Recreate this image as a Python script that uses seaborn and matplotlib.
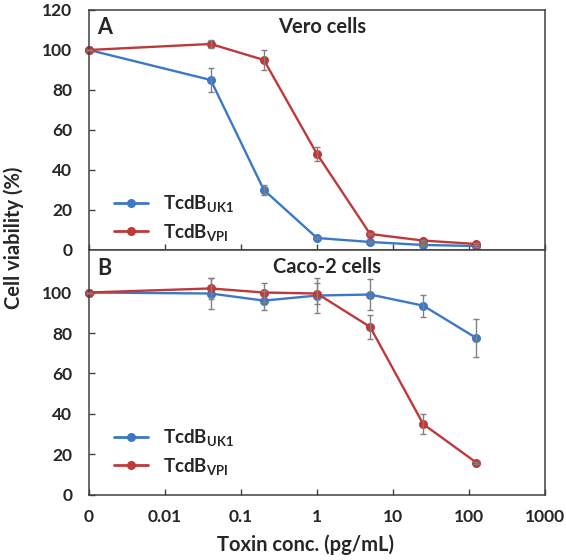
import matplotlib

matplotlib.use("Agg")
import matplotlib.pyplot as plt
import pandas as pd
import seaborn as sns

# toxin concentrations (pg/mL); the untreated control "0" sits at 0.001 on the log axis
CONC = [0.001, 0.04, 0.2, 1, 5, 25, 125]
XTICKS = [0.001, 0.01, 0.1, 1, 10, 100, 1000]
XTICK_LABELS = ["0", "0.01", "0.1", "1", "10", "100", "1000"]

TOXINS = ["UK1", "VPI"]

VERO_UK1 = [100, 85, 30, 6, 4, 2.5, 2]
VERO_UK1_ERR = [0, 6, 2.5, 0.5, 0.5, 0.5, 0.5]
VERO_VPI = [100, 103, 95, 48, 8, 4.7, 3]
VERO_VPI_ERR = [0, 2, 5, 3.5, 0.5, 0.5, 0.5]

CACO_UK1 = [100, 99.5, 96, 98.5, 99, 93.5, 77.5]
CACO_UK1_ERR = [0, 7.5, 4.5, 8.5, 7.5, 5.5, 9.5]
CACO_VPI = [100, 102, 100, 99.5, 83, 35, 16]
CACO_VPI_ERR = [0, 5, 4.5, 5, 6, 5, 0.5]

COLORS = {"UK1": "#3d78c6", "VPI": "#be3a3a"}
ERR_COLOR = "#808080"

sns.set_style("ticks")
plt.rcParams["font.family"] = ["Lato", "DejaVu Sans"]
plt.rcParams["font.weight"] = "bold"
plt.rcParams["mathtext.fontset"] = "custom"
plt.rcParams["mathtext.rm"] = "Lato:bold"
plt.rcParams["mathtext.default"] = "rm"


def label(name):
    return "TcdB$_{\\mathrm{" + name + "}}$"


def make_frame(uk1, vpi):
    rows = []
    for toxin, values in zip(TOXINS, [uk1, vpi]):
        for c, v in zip(CONC, values):
            rows.append({"conc": c, "viability": v, "toxin": label(toxin)})
    return pd.DataFrame(rows)


def draw_panel(ax, uk1, uk1_err, vpi, vpi_err, letter, title, title_x, ymax, yticks, legend_anchor):
    df = make_frame(uk1, vpi)
    palette = {label(t): COLORS[t] for t in TOXINS}
    sns.lineplot(data=df, x="conc", y="viability", hue="toxin", palette=palette,
                 marker="o", markersize=6.5, markeredgewidth=0, linewidth=1.7,
                 clip_on=False, ax=ax)
    for values, errs in [(uk1, uk1_err), (vpi, vpi_err)]:
        ax.errorbar(CONC, values, yerr=errs, fmt="none", ecolor=ERR_COLOR,
                    elinewidth=1, capsize=2.5, capthick=1, zorder=5, clip_on=False)

    ax.set_xscale("log")
    ax.set_xlim(0.001, 1000)
    ax.set_ylim(0, ymax)
    ax.set_yticks(yticks)
    ax.set_xticks(XTICKS)
    ax.minorticks_off()
    ax.set_xlabel("")
    ax.set_ylabel("")
    ax.tick_params(direction="in", length=4, width=1, labelsize=12.5, color="#404040")
    ax.tick_params(axis="y", pad=12)
    ax.tick_params(axis="x", pad=10)
    for spine in ax.spines.values():
        spine.set_visible(True)
        spine.set_linewidth(1.1)
        spine.set_color("#404040")

    ax.text(0.018, 0.925, letter, transform=ax.transAxes, fontsize=15.5, va="center")
    ax.text(title_x, 0.93, title, transform=ax.transAxes, fontsize=14.5, va="center")

    leg = ax.legend(loc="lower left", bbox_to_anchor=legend_anchor, frameon=False,
                    fontsize=13.5, handlelength=1.8, handletextpad=0.8,
                    labelspacing=0.4, borderpad=0, borderaxespad=0)
    for line in leg.get_lines():
        line.set_linewidth(2)


fig = plt.figure(figsize=(5.66, 5.60), dpi=100)
ax_a = fig.add_axes([0.1572, 0.5536, 0.8057, 0.4286])
ax_b = fig.add_axes([0.1572, 0.1161, 0.8057, 0.4375], sharex=ax_a)

draw_panel(ax_a, VERO_UK1, VERO_UK1_ERR, VERO_VPI, VERO_VPI_ERR, "A", "Vero cells", 0.415,
           120, [0, 20, 40, 60, 80, 100, 120], (0.055, 0.03))
draw_panel(ax_b, CACO_UK1, CACO_UK1_ERR, CACO_VPI, CACO_VPI_ERR, "B", "Caco-2 cells", 0.403,
           121, [0, 20, 40, 60, 80, 100], (0.055, 0.075))

ax_a.tick_params(axis="x", labelbottom=False)
ax_b.set_xticklabels(XTICK_LABELS)

fig.text(0.024, 0.576, "Cell viability (%)", rotation=90, va="center", ha="center", fontsize=14.5)
fig.text(0.54, 0.027, "Toxin conc. (pg/mL)", va="center", ha="center", fontsize=14.5)

fig.savefig("out.png", dpi=100)
